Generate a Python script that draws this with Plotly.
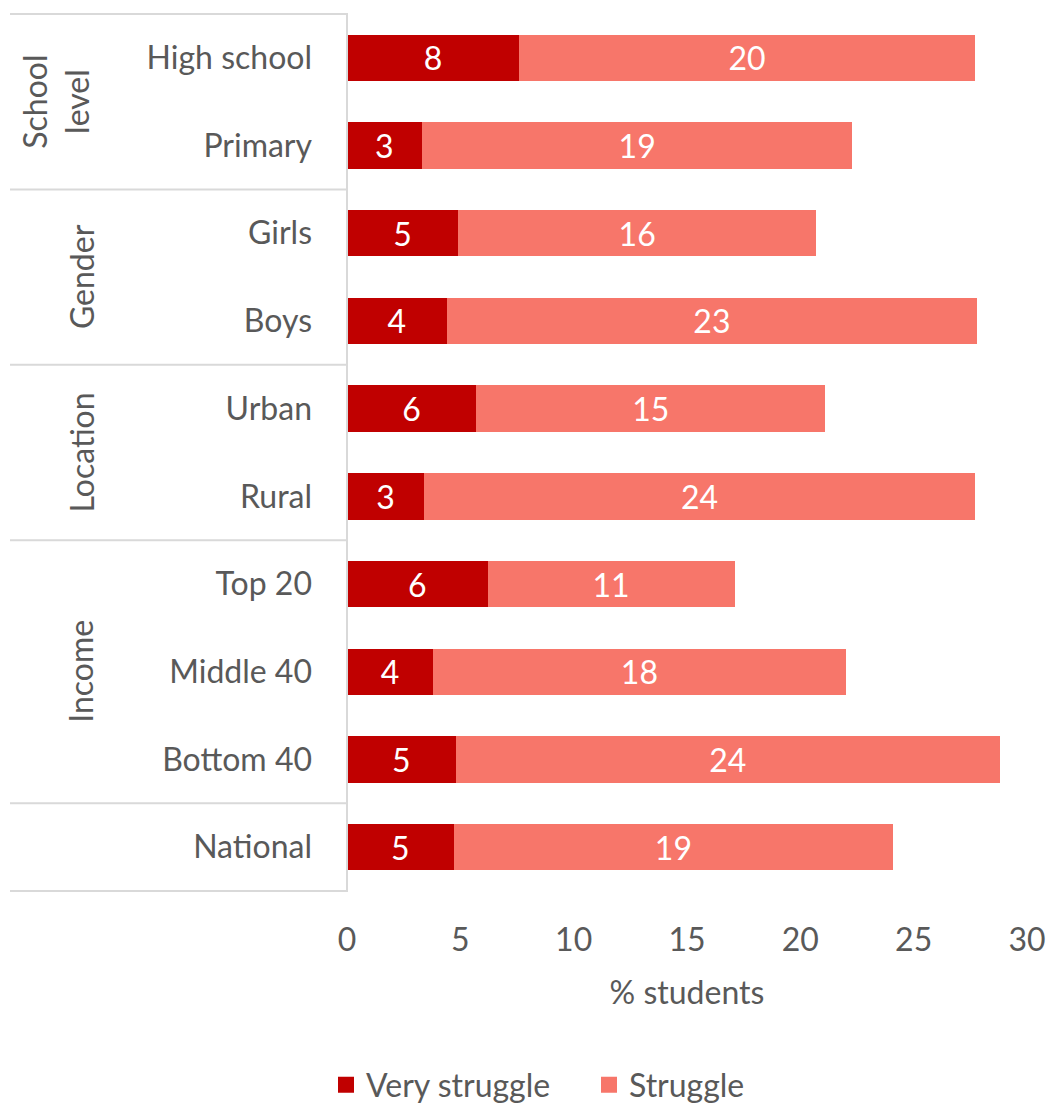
import plotly.graph_objects as go

# Rows, top to bottom
categories = ["High school", "Primary", "Girls", "Boys", "Urban", "Rural",
              "Top 20", "Middle 40", "Bottom 40", "National"]
very_struggle = [7.6, 3.3, 4.9, 4.4, 5.7, 3.4, 6.2, 3.8, 4.8, 4.7]
struggle = [20.1, 19.0, 15.8, 23.4, 15.4, 24.3, 10.9, 18.2, 24.0, 19.4]

# Group headers: (label, first row index, last row index)
groups = [("School<br>level", 0, 1), ("Gender", 2, 3), ("Location", 4, 5),
          ("Income", 6, 8)]
# Row boundaries where separator lines are drawn
boundaries = [-0.5, 1.5, 3.5, 5.5, 8.5, 9.5]

x_ticks = [0, 5, 10, 15, 20, 25, 30]

DARK = "#C00000"
LIGHT = "#F7766A"
GREY_TEXT = "#595959"
LINE = "#D9D9D9"
FONT = "Lato"

fig = go.Figure()

for name, vals, color in [("Very struggle", very_struggle, DARK),
                          ("Struggle", struggle, LIGHT)]:
    fig.add_trace(go.Bar(
        y=categories, x=vals, name=name, orientation="h",
        marker=dict(color=color, line=dict(width=0)),
        texttemplate="%{x:.0f}", textposition="inside",
        insidetextanchor="middle", textangle=0, constraintext="none",
        textfont=dict(color="white", size=32, family=FONT),
        showlegend=False, hoverinfo="x+y+name",
    ))

# Legend entries with larger square swatches
for name, color in [("Very struggle", DARK), ("Struggle", LIGHT)]:
    fig.add_trace(go.Scatter(
        x=[None], y=[None], mode="markers", name=name,
        marker=dict(symbol="square", size=20, color=color),
        showlegend=True,
    ))

L, R, T, B = 347, 29, 13, 214
W, H = 1056, 1106
plot_w = W - L - R
plot_h = H - T - B
left_edge = (10 - L) / plot_w

shapes = []
for b in boundaries:
    shapes.append(dict(type="line", xref="paper", yref="y",
                       x0=left_edge, x1=0, y0=b, y1=b,
                       line=dict(color=LINE, width=2)))
shapes.append(dict(type="line", xref="paper", yref="paper",
                   x0=0, x1=0, y0=0, y1=1,
                   line=dict(color=LINE, width=2)))

annotations = []
for label, i0, i1 in groups:
    multi = "<br>" in label
    xpix = 56 if multi else 81
    annotations.append(dict(
        text=label, xref="paper", yref="y",
        x=(xpix - L) / plot_w, y=(i0 + i1) / 2,
        xanchor="center", yanchor="middle", textangle=-90,
        showarrow=False,
        font=dict(size=32, color=GREY_TEXT, family=FONT),
    ))

fig.update_layout(
    width=W, height=H,
    margin=dict(l=L, r=R, t=T, b=B, autoexpand=False),
    paper_bgcolor="white", plot_bgcolor="white",
    barmode="stack", bargap=0.47,
    font=dict(family=FONT, color=GREY_TEXT, size=32),
    xaxis=dict(range=[0, 30], tickvals=x_ticks, showgrid=False,
               zeroline=False, showline=False, ticks="",
               ticklabelstandoff=26, automargin=False,
               tickfont=dict(size=32, color=GREY_TEXT, family=FONT),
               title=dict(text="% students", standoff=24,
                          font=dict(size=32, color=GREY_TEXT, family=FONT)),
               fixedrange=True),
    yaxis=dict(categoryorder="array", categoryarray=categories,
               autorange="reversed", showgrid=False, zeroline=False,
               showline=False, ticks="", ticklabelstandoff=34,
               automargin=False,
               tickfont=dict(size=32, color=GREY_TEXT, family=FONT),
               fixedrange=True),
    legend=dict(orientation="h", x=(326 - L) / plot_w, xanchor="left",
                y=-(1085 - (H - B)) / plot_h, yanchor="middle",
                font=dict(size=32, color=GREY_TEXT, family=FONT),
                itemwidth=30, entrywidth=218, entrywidthmode="pixels",
                traceorder="normal"),
    shapes=shapes, annotations=annotations,
)

fig.write_html("out.html")
